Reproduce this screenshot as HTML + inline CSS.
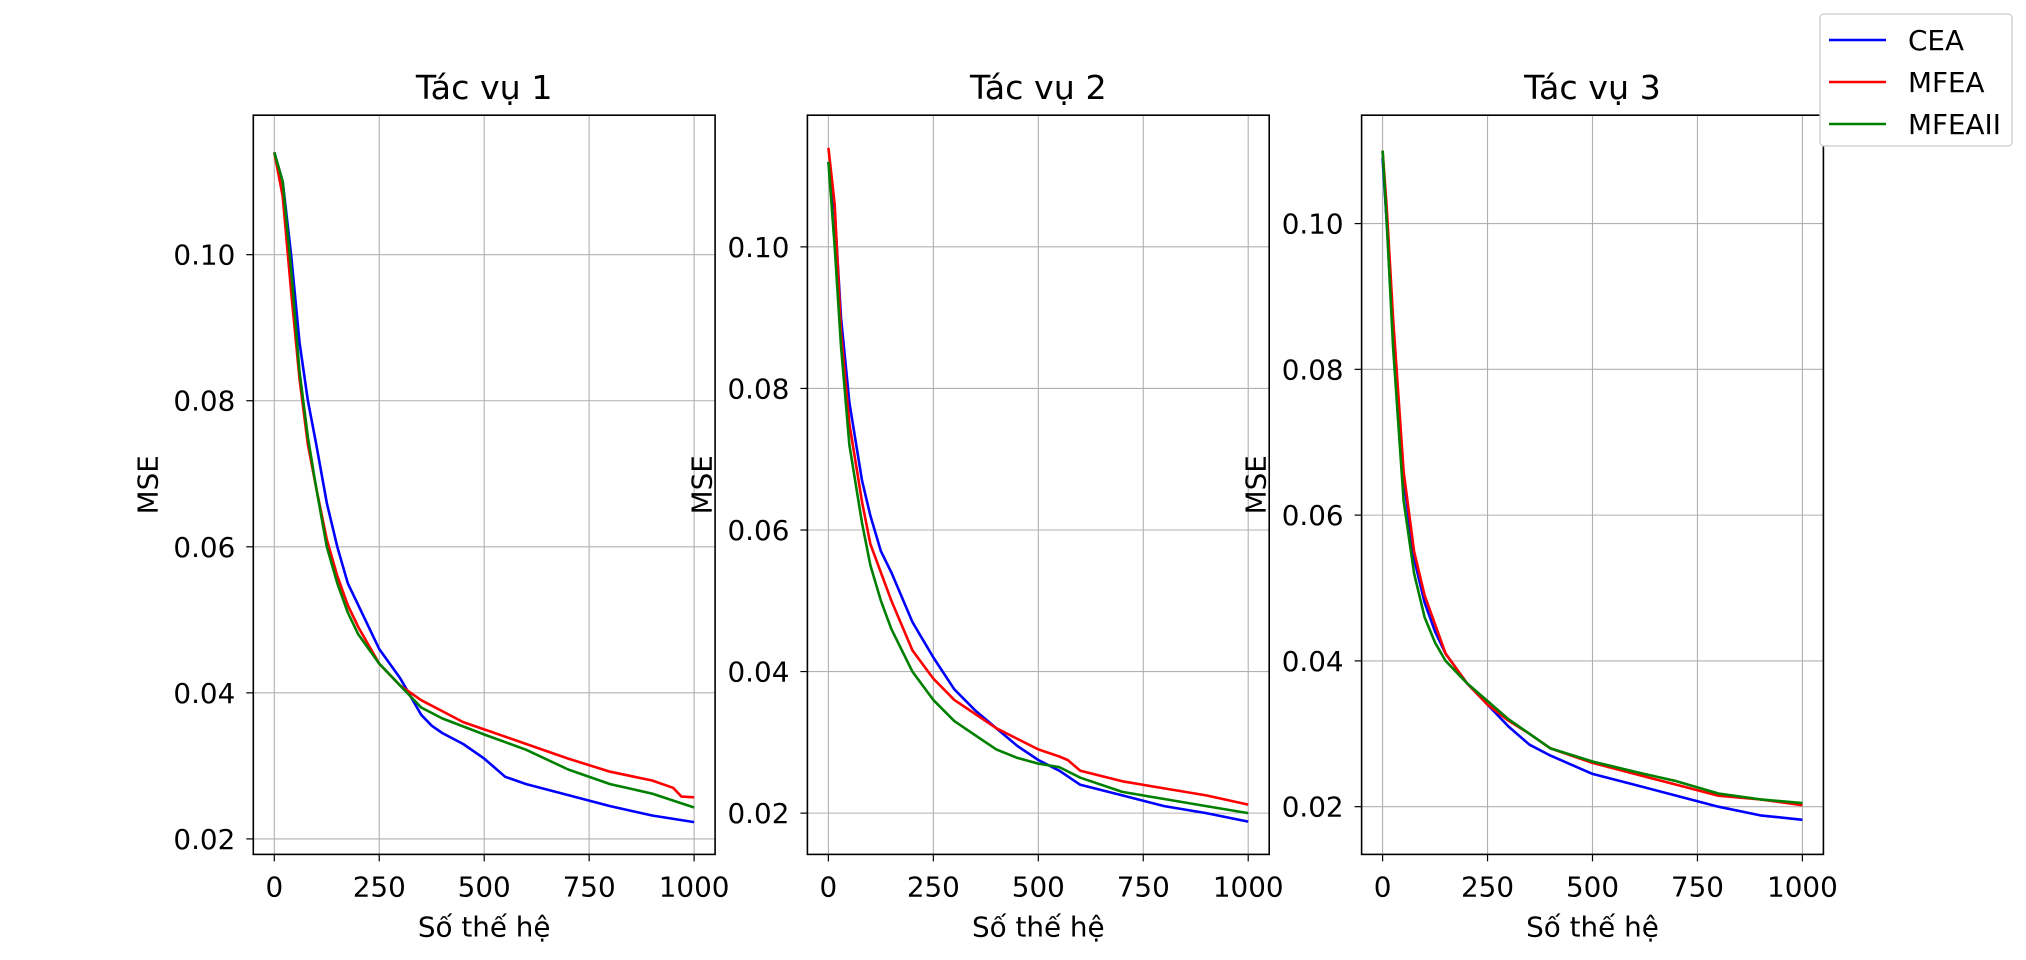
<!DOCTYPE html>
<html><head><meta charset="utf-8"><style>
html,body{margin:0;padding:0;background:#fff;}
svg{display:block;font-family:"DejaVu Sans","Liberation Sans",sans-serif;}
</style></head><body>
<svg id="fig" width="2026" height="960" viewBox="0 0 2026 960"></svg>
<script>
const xTicks=[0,250,500,750,1000];
const yTicks1=[0.02,0.04,0.06,0.08,0.10];
const yTicks2=[0.02,0.04,0.06,0.08,0.10];
const yTicks3=[0.02,0.04,0.06,0.08,0.10];
const seriesNames=["CEA","MFEA","MFEAII"];
const titles=["Tác vụ 1","Tác vụ 2","Tác vụ 3"];
// task 1
const t1CEAx=[0,20,40,60,80,100,125,150,175,200,250,300,350,375,400,450,500,530,550,600,700,800,900,1000];
const t1CEAy=[0.114,0.110,0.100,0.088,0.080,0.074,0.066,0.060,0.055,0.052,0.046,0.042,0.037,0.0355,0.0345,0.033,0.031,0.0295,0.0285,0.0275,0.026,0.0245,0.0232,0.0223];
const t1MFEAx=[0,20,40,60,80,100,125,150,175,200,250,300,350,400,450,500,600,700,800,900,950,970,1000];
const t1MFEAy=[0.114,0.108,0.095,0.083,0.074,0.068,0.061,0.056,0.052,0.049,0.044,0.041,0.039,0.0375,0.036,0.035,0.033,0.031,0.0292,0.028,0.027,0.0258,0.0257];
const t1MFEAIIx=[0,20,40,60,80,100,125,150,175,200,250,300,350,400,500,600,700,800,900,1000];
const t1MFEAIIy=[0.114,0.110,0.098,0.084,0.075,0.068,0.060,0.055,0.051,0.048,0.044,0.041,0.038,0.0365,0.0343,0.0322,0.0295,0.0275,0.0262,0.0243];
// task 2
const t2CEAx=[0,15,30,50,80,100,125,150,200,250,300,350,400,450,500,550,600,700,800,900,1000];
const t2CEAy=[0.112,0.105,0.090,0.078,0.067,0.062,0.057,0.054,0.047,0.042,0.0375,0.0345,0.032,0.0295,0.0275,0.026,0.024,0.0225,0.021,0.020,0.0188];
const t2MFEAx=[0,15,30,50,80,100,125,150,200,250,300,350,400,500,550,570,600,700,800,900,1000];
const t2MFEAy=[0.114,0.106,0.088,0.075,0.064,0.058,0.054,0.050,0.043,0.039,0.036,0.034,0.032,0.029,0.028,0.0275,0.026,0.0245,0.0235,0.0225,0.0212];
const t2MFEAIIx=[0,15,30,50,80,100,125,150,200,250,300,350,400,450,500,550,600,700,800,900,1000];
const t2MFEAIIy=[0.112,0.100,0.086,0.072,0.061,0.055,0.050,0.046,0.040,0.036,0.033,0.031,0.029,0.0278,0.027,0.0265,0.025,0.023,0.022,0.021,0.020];
// task 3
const t3CEAx=[0,10,25,50,75,100,125,150,200,250,300,350,400,500,600,700,800,900,1000];
const t3CEAy=[0.109,0.100,0.085,0.065,0.054,0.048,0.044,0.041,0.037,0.034,0.031,0.0285,0.027,0.0245,0.023,0.0215,0.020,0.0188,0.0182];
const t3MFEAx=[0,10,25,50,75,100,125,150,200,250,300,350,400,500,600,700,800,900,1000];
const t3MFEAy=[0.110,0.102,0.087,0.066,0.055,0.049,0.045,0.041,0.037,0.034,0.0318,0.030,0.028,0.026,0.0245,0.023,0.0215,0.021,0.0202];
const t3MFEAIIx=[0,10,25,50,75,100,125,150,200,250,300,350,400,500,600,700,800,900,1000];
const t3MFEAIIy=[0.110,0.100,0.083,0.062,0.052,0.046,0.0425,0.040,0.037,0.0345,0.032,0.030,0.028,0.0262,0.0248,0.0235,0.0218,0.021,0.0205];

const colors=["#0000ff","#ff0000","#008000"];
const NS="http://www.w3.org/2000/svg";
const svg=document.getElementById('fig');
function mk(tag,attrs,parent){const e=document.createElementNS(NS,tag);for(const k in attrs)e.setAttribute(k,attrs[k]);(parent||svg).appendChild(e);return e;}

const axesDefs=[
 {left:253.3,yl:[0.01788,0.1191],yt:yTicks1,data:[[t1CEAx,t1CEAy],[t1MFEAx,t1MFEAy],[t1MFEAIIx,t1MFEAIIy]]},
 {left:807.4,yl:[0.01417,0.1186],yt:yTicks2,data:[[t2CEAx,t2CEAy],[t2MFEAx,t2MFEAy],[t2MFEAIIx,t2MFEAIIy]]},
 {left:1361.6,yl:[0.01345,0.11487],yt:yTicks3,data:[[t3CEAx,t3CEAy],[t3MFEAx,t3MFEAy],[t3MFEAIIx,t3MFEAIIy]]}
];
const W=461.8, TOP=115.2, BOT=854.4;
axesDefs.forEach((ad,i)=>{
  const g=mk('g',{});
  
  
  const L=ad.left,R=L+W;
  const sx=v=>L+(v+50)/1100*W;
  const sy=v=>BOT-(v-ad.yl[0])/(ad.yl[1]-ad.yl[0])*(BOT-TOP);
  xTicks.forEach(t=>{const l=mk('line',{x1:sx(t),x2:sx(t),y1:TOP,y2:BOT,stroke:'#b0b0b0','stroke-width':1.1},g);
    });
  ad.yt.forEach(t=>{const l=mk('line',{x1:L,x2:R,y1:sy(t),y2:sy(t),stroke:'#b0b0b0','stroke-width':1.1},g);
    });
  ad.data.forEach((d,k)=>{
    const pts=d[0].map((x,j)=>sx(x).toFixed(1)+','+sy(d[1][j]).toFixed(1)).join(' ');
    const p=mk('polyline',{points:pts,fill:'none',stroke:colors[k],'stroke-width':2.6,'stroke-linejoin':'round'},g);
    
    
  });
  const fr=mk('rect',{x:L,y:TOP,width:W,height:BOT-TOP,fill:'none',stroke:'#000','stroke-width':1.6},g);
  
  xTicks.forEach(t=>{
    mk('line',{x1:sx(t),x2:sx(t),y1:BOT,y2:BOT+7,stroke:'#000','stroke-width':1.2},g);
    const tx=mk('text',{x:sx(t),y:BOT+42,'font-size':27.8,'text-anchor':'middle'},g);
    tx.textContent=t;
    
  });
  ad.yt.forEach(t=>{
    mk('line',{x1:L-7,x2:L,y1:sy(t),y2:sy(t),stroke:'#000','stroke-width':1.2},g);
    const tx=mk('text',{x:L-18,y:sy(t)+10,'font-size':27.8,'text-anchor':'end'},g);
    tx.textContent=t.toFixed(2);
    
  });
  const xl=mk('text',{x:L+W/2,y:BOT+82,'font-size':27.8,'text-anchor':'middle'},g);
  xl.textContent='Số thế hệ';
  
  const yl=mk('text',{x:0,y:0,'font-size':27.8,'text-anchor':'middle',transform:'translate('+(L-96)+','+((TOP+BOT)/2)+') rotate(-90)'},g);
  yl.textContent='MSE';
  
  const ti=mk('text',{x:L+W/2,y:TOP-16,'font-size':33.3,'text-anchor':'middle'},g);
  ti.textContent=titles[i];
  
});
const lg=mk('g',{});


mk('rect',{x:1820,y:14,width:192,height:132,rx:4,fill:'#fff',stroke:'#cccccc','stroke-width':1.3},lg);
seriesNames.forEach((n,k)=>{
  const y=40+k*42;
  const ln=mk('line',{x1:1829,x2:1886,y1:y,y2:y,stroke:colors[k],'stroke-width':2.6},lg);
  
  const t=mk('text',{x:1908,y:y+10,'font-size':27.8},lg);
  t.textContent=n;
  
});
</script>
</body></html>
